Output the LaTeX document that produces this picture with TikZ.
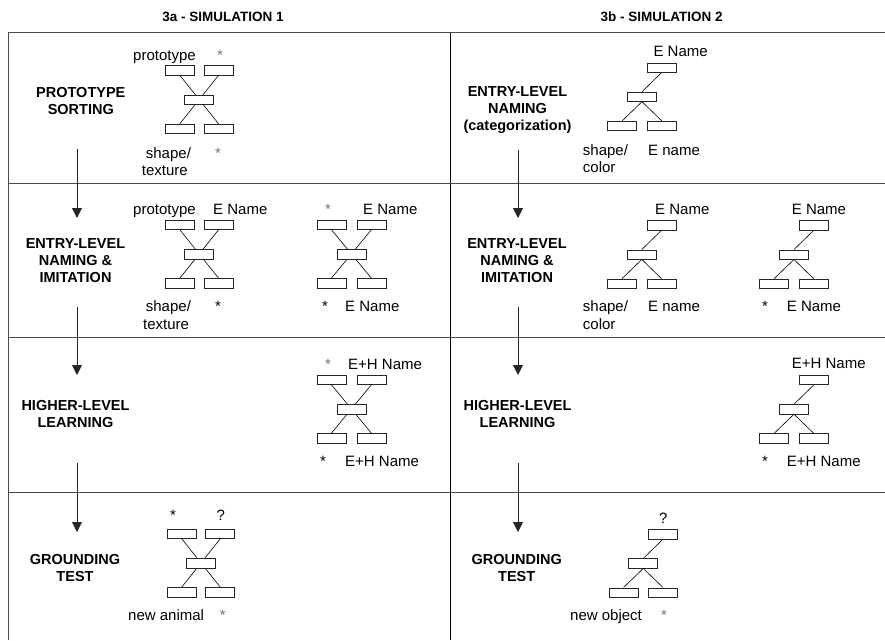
\documentclass[tikz,border=0pt]{standalone}
\usepackage{fontspec}
\setmainfont{Liberation Sans}
\usetikzlibrary{arrows.meta}
% X-shaped net: #1 prefix, #2 x of middle box, #3 y of top row, #4 half spacing
\newcommand\Xnet[4]{%
  \node[bx] (#1tl) at (#2-#4,#3) {};
  \node[bx] (#1tr) at (#2+#4,#3) {};
  \node[bx] (#1bl) at (#2-#4,#3+58.5) {};
  \node[bx] (#1br) at (#2+#4,#3+58.5) {};
  \draw[ln] (#1tl.south) -- (#1br.north);
  \draw[ln] (#1tr.south) -- (#1bl.north);
  \node[bx] (#1m) at (#2,#3+29.6) {};
}
% tree net: #1 prefix, #2 x of top box, #3 y of top box
\newcommand\Tnet[3]{%
  \node[bx] (#1t) at (#2,#3) {};
  \node[bx] (#1m) at (#2-19.7,#3+29.2) {};
  \node[bx] (#1bl) at (#2-39.5,#3+58.3) {};
  \node[bx] (#1br) at (#2,#3+58.3) {};
  \draw[ln] (#1t.south) -- (#1m.north);
  \draw[ln] (#1m.south) -- (#1bl.north);
  \draw[ln] (#1m.south) -- (#1br.north);
}
\begin{document}
\begin{tikzpicture}[x=1pt,y=-1pt,
  bx/.style={draw=black!85, line width=0.7pt, fill=white, minimum width=29pt, minimum height=9.3pt, inner sep=0pt},
  ln/.style={draw=black, line width=0.6pt},
  lbl/.style={font=\fontsize{15}{17}\selectfont, inner sep=0pt, anchor=base west},
  lblc/.style={font=\fontsize{15}{17}\selectfont, inner sep=0pt, anchor=base},
  ast/.style={lblc, text=black!55},
  stage/.style={font=\fontsize{14.5}{17}\selectfont\bfseries, align=center, inner sep=0pt},
  ttl/.style={font=\fontsize{13.5}{16}\selectfont\bfseries, inner sep=0pt},
  grid/.style={draw=black!70, line width=0.9pt},
  arr/.style={draw=black!85, line width=0.9pt, -{Triangle[width=10pt,length=10pt]}}]

\useasboundingbox (0,0) rectangle (885,640);

% frame
\draw[grid] (8,640) -- (8,32) -- (885,32);
\draw[grid, draw=black] (450,33) -- (450,640);
\draw[grid] (8,183) -- (885,183);
\draw[grid] (8,337) -- (885,337);
\draw[grid] (8,492) -- (885,492);

% titles
\node[ttl] (t1) at (223,17) {3a - SIMULATION 1};
\node[ttl] (t2) at (661.7,17) {3b - SIMULATION 2};

% stage labels
\node[stage] (s1l) at (80.8,101.5) {PROTOTYPE\\SORTING};
\node[stage] (s1r) at (517.5,110) {ENTRY-LEVEL\\NAMING\\(categorization)};
\node[stage] (s2l) at (75.5,260.5) {ENTRY-LEVEL\\NAMING \&\\IMITATION};
\node[stage] (s2r) at (517,260.5) {ENTRY-LEVEL\\NAMING \&\\IMITATION};
\node[stage] (s3l) at (75.5,413.5) {HIGHER-LEVEL\\LEARNING};
\node[stage] (s3r) at (517.5,413.5) {HIGHER-LEVEL\\LEARNING};
\node[stage] (s4l) at (75,568) {GROUNDING\\TEST};
\node[stage] (s4r) at (516.7,568) {GROUNDING\\TEST};

% arrows
\coordinate (la1) at (77,149);  \coordinate (la2) at (77,218);
\coordinate (lb1) at (77,307);  \coordinate (lb2) at (77,375);
\coordinate (lc1) at (77,463);  \coordinate (lc2) at (77,532);
\coordinate (ra1) at (518,150); \coordinate (ra2) at (518,218);
\coordinate (rb1) at (518,307); \coordinate (rb2) at (518,375);
\coordinate (rc1) at (518,463); \coordinate (rc2) at (518,532);
\draw[arr] (la1) -- (la2);
\draw[arr] (lb1) -- (lb2);
\draw[arr] (lc1) -- (lc2);
\draw[arr] (ra1) -- (ra2);
\draw[arr] (rb1) -- (rb2);
\draw[arr] (rc1) -- (rc2);

% ---- left column nets ----
\Xnet{a}{199.2}{70.3}{19.4}
\node[lbl] (a-l1) at (133,60) {prototype};
\node[ast] (a-l2) at (220,60) {*};
\node[lbl] (a-l3) at (145.7,158) {shape/};
\node[lbl] (a-l4) at (141.7,175) {texture};
\node[ast] (a-l5) at (218,158) {*};

\Xnet{b}{199.2}{224.7}{19.4}
\node[lbl] (b-l1) at (133,214) {prototype};
\node[lbl] (b-l2) at (213,214) {E Name};
\node[lbl] (b-l3) at (145.7,311.7) {shape/};
\node[lblc] (b-l4) at (218,311.7) {*};
\node[lbl] (b-l5) at (143,329) {texture};

\Xnet{c}{351.4}{224.7}{20}
\node[ast] (c-l1) at (328,214) {*};
\node[lbl] (c-l2) at (363,214) {E Name};
\node[lblc] (c-l3) at (325,311.7) {*};
\node[lbl] (c-l4) at (345,311.7) {E Name};

\Xnet{d}{351.4}{379.7}{20}
\node[ast] (d-l1) at (328,369) {*};
\node[lbl] (d-l2) at (348,369) {E+H Name};
\node[lblc] (d-l3) at (323,466) {*};
\node[lbl] (d-l4) at (345,466) {E+H Name};

\Xnet{e}{201}{533.7}{19.3}
\node[lblc] (e-l1) at (173,520) {*};
\node[lblc] (e-l2) at (220.7,520) {?};
\node[lbl] (e-l3) at (128,620) {new animal};
\node[ast] (e-l4) at (222.7,620) {*};

% ---- right column nets ----
\Tnet{f}{661.7}{67.5}
\node[lbl] (f-l1) at (653.3,56.5) {E Name};
\node[lbl] (f-l2) at (582.7,155) {shape/};
\node[lbl] (f-l3) at (648,155) {E name};
\node[lbl] (f-l4) at (582.7,172) {color};

\Tnet{g}{661.5}{225.3}
\node[lbl] (g-l1) at (655,214) {E Name};
\node[lbl] (g-l2) at (582.7,311.7) {shape/};
\node[lbl] (g-l3) at (648,311.7) {E name};
\node[lbl] (g-l4) at (582.7,329) {color};

\Tnet{h}{813.7}{225.3}
\node[lbl] (h-l1) at (791.7,214) {E Name};
\node[lblc] (h-l2) at (765,311.7) {*};
\node[lbl] (h-l3) at (786.7,311.7) {E Name};

\Tnet{i}{813.7}{380}
\node[lbl] (i-l1) at (791.7,368.5) {E+H Name};
\node[lblc] (i-l2) at (765,466) {*};
\node[lbl] (i-l3) at (786.7,466) {E+H Name};

\Tnet{j}{663}{534.2}
\node[lblc] (j-l1) at (663.3,523) {?};
\node[lbl] (j-l2) at (570,620) {new object};
\node[ast] (j-l3) at (664,620) {*};

\end{tikzpicture}
\end{document}
